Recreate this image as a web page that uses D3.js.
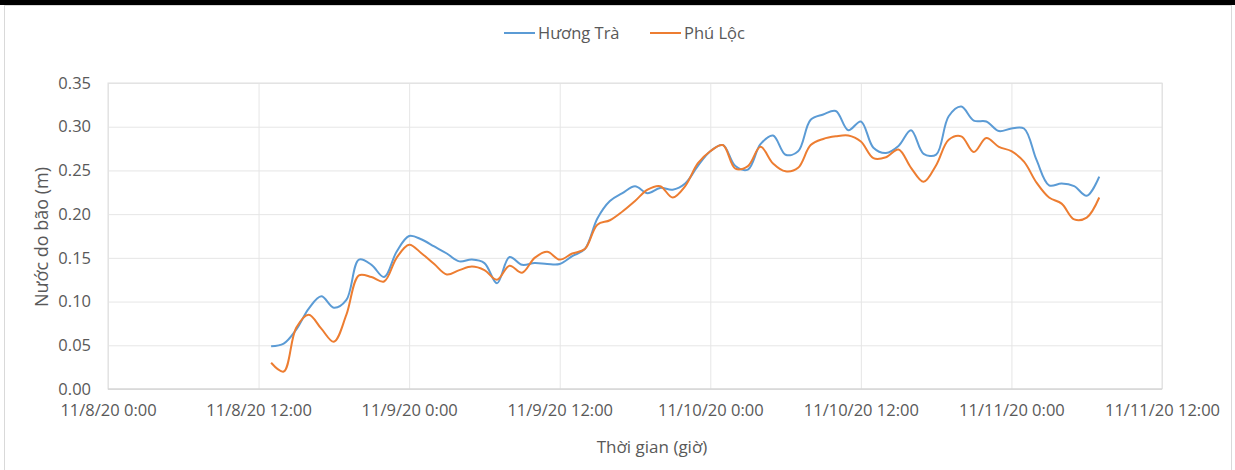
<!DOCTYPE html>
<html>
<head>
<meta charset="utf-8">
<script src="https://cdn.jsdelivr.net/npm/d3@7"></script>
<style>
  body { margin: 0; background: #fff; }
  text { font-family: "Open Sans", "Noto Sans", sans-serif; fill: #595959; }
</style>
</head>
<body>
<svg id="chart" width="1235" height="470"></svg>
<script>
// hours since 11/8/20 0:00, hourly readings
const hours = d3.range(13, 80);
const huongTra = [
  0.049, 0.052, 0.068, 0.092, 0.106, 0.093, 0.102, 0.148, 0.142, 0.128,
  0.157, 0.175, 0.171, 0.163, 0.155, 0.146, 0.148, 0.144, 0.121, 0.151,
  0.142, 0.144, 0.143, 0.143, 0.152, 0.160, 0.195, 0.215, 0.224, 0.232,
  0.224, 0.230, 0.228, 0.235, 0.255, 0.272, 0.279, 0.255, 0.251, 0.280,
  0.290, 0.268, 0.272, 0.308, 0.314, 0.318, 0.296, 0.306, 0.276, 0.270,
  0.278, 0.296, 0.269, 0.268, 0.312, 0.323, 0.307, 0.306, 0.295, 0.298,
  0.298, 0.262, 0.233, 0.235, 0.232, 0.221, 0.243
];
const phuLoc = [
  0.030, 0.020, 0.070, 0.085, 0.069, 0.054, 0.085, 0.130, 0.128, 0.123,
  0.150, 0.165, 0.155, 0.143, 0.131, 0.136, 0.140, 0.136, 0.125, 0.141,
  0.133, 0.150, 0.157, 0.148, 0.155, 0.160, 0.188, 0.193, 0.203, 0.215,
  0.228, 0.232, 0.219, 0.232, 0.258, 0.272, 0.279, 0.252, 0.255, 0.277,
  0.258, 0.249, 0.253, 0.279, 0.286, 0.289, 0.290, 0.283, 0.264, 0.265,
  0.274, 0.253, 0.237, 0.256, 0.285, 0.289, 0.271, 0.287, 0.277, 0.272,
  0.260, 0.236, 0.219, 0.212, 0.194, 0.196, 0.219
];
const xTickLabels = ["11/8/20 0:00", "11/8/20 12:00", "11/9/20 0:00", "11/9/20 12:00",
  "11/10/20 0:00", "11/10/20 12:00", "11/11/20 0:00", "11/11/20 12:00"];
const yTicks = [0, 0.05, 0.10, 0.15, 0.20, 0.25, 0.30, 0.35];
const seriesNames = ["Hương Trà", "Phú Lộc"];
const seriesColors = ["#5B9BD5", "#ED7D31"];

const svg = d3.select("#chart");
const W = 1235, H = 470;

// top black strip and outer frame
svg.append("rect").attr("x", 0).attr("y", 0).attr("width", W).attr("height", 5).attr("fill", "#000");
svg.append("rect").attr("x", 4.5).attr("y", 5.5).attr("width", W - 8).attr("height", H)
  .attr("fill", "none").attr("stroke", "#d9d9d9");

const margin = { top: 83, left: 108, right: 73, bottom: 81 };
const pw = W - margin.left - margin.right;
const ph = H - margin.top - margin.bottom;
const g = svg.append("g").attr("transform", `translate(${margin.left},${margin.top})`);

const x = d3.scaleLinear().domain([0, 84]).range([0, pw]);
const y = d3.scaleLinear().domain([0, 0.35]).range([ph, 0]);

// grid
g.append("g")
  .call(d3.axisLeft(y).tickValues(yTicks).tickSize(-pw).tickFormat(""))
  .call(a => a.select(".domain").remove())
  .selectAll("line").attr("stroke", "#e6e6e6");
g.append("g")
  .attr("transform", `translate(0,${ph})`)
  .call(d3.axisBottom(x).tickValues(d3.range(0, 85, 12)).tickSize(-ph).tickFormat(""))
  .call(a => a.select(".domain").remove())
  .selectAll("line").attr("stroke", "#e6e6e6");
g.append("rect").attr("width", pw).attr("height", ph)
  .attr("fill", "none").attr("stroke", "#e0e0e0");
g.append("line").attr("x1", 0).attr("x2", pw).attr("y1", ph).attr("y2", ph).attr("stroke", "#d0d0d0");

// tick labels
g.append("g")
  .attr("transform", `translate(0,${ph})`)
  .call(d3.axisBottom(x).tickValues(d3.range(0, 85, 12)).tickSize(0).tickPadding(15)
    .tickFormat((d, i) => xTickLabels[i]))
  .call(a => a.select(".domain").remove())
  .selectAll("text").attr("font-size", "16.5px").attr("fill", "#595959");
g.append("g")
  .call(d3.axisLeft(y).tickValues(yTicks).tickSize(0).tickPadding(17).tickFormat(d3.format(".2f")))
  .call(a => a.select(".domain").remove())
  .selectAll("text").attr("font-size", "16.5px").attr("fill", "#595959");

// lines
const line = d3.line()
  .x((d, i) => x(hours[i]))
  .y(d => y(d))
  .curve(d3.curveCatmullRom.alpha(0.5));
[huongTra, phuLoc].forEach((s, k) => {
  g.append("path").datum(s)
    .attr("fill", "none")
    .attr("stroke", seriesColors[k])
    .attr("stroke-width", 2)
    .attr("stroke-linejoin", "round")
    .attr("d", line);
});

// axis titles
svg.append("text").attr("x", 652).attr("y", 453)
  .attr("text-anchor", "middle").attr("font-size", "17px").text("Thời gian (giờ)");
svg.append("text").attr("transform", `translate(48,237) rotate(-90)`)
  .attr("text-anchor", "middle").attr("font-size", "18px").text("Nước do bão (m)");

// legend
const legend = svg.append("g").attr("transform", "translate(504,33)");
const legX = [0, 146];
seriesNames.forEach((n, k) => {
  const lg = legend.append("g").attr("transform", `translate(${legX[k]},0)`);
  lg.append("line").attr("x1", 0).attr("x2", 31).attr("y1", 0).attr("y2", 0)
    .attr("stroke", seriesColors[k]).attr("stroke-width", 2);
  lg.append("text").attr("x", 34).attr("y", 6).attr("font-size", "16.5px").text(n);
});
</script>
</body>
</html>
